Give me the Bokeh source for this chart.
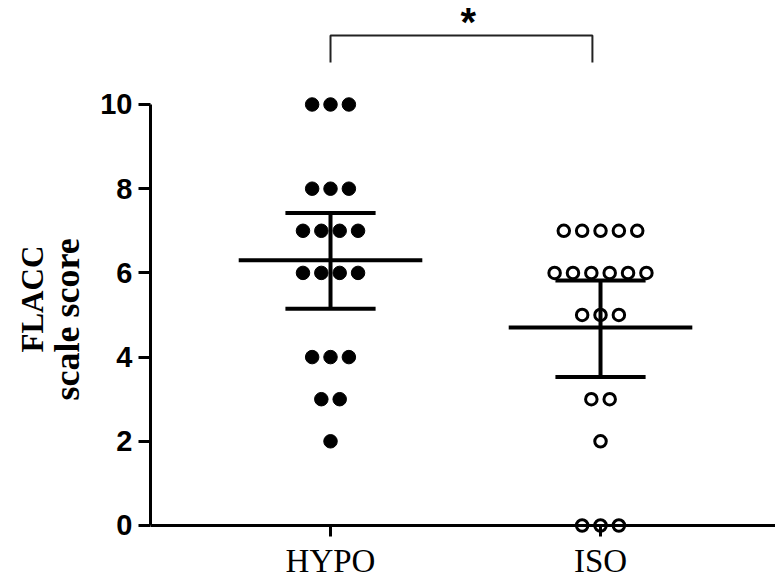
from bokeh.plotting import figure
from bokeh.models import Range1d, FixedTicker, Span, Title
from bokeh.core.properties import value
from bokeh.embed import file_html
from bokeh.resources import INLINE

# ---- data ----
categories = ["HYPO", "ISO"]
hypo_scores = [10, 10, 10, 8, 8, 8, 7, 7, 7, 7, 6, 6, 6, 6, 4, 4, 4, 3, 3, 2]
iso_scores = [7, 7, 7, 7, 7, 6, 6, 6, 6, 6, 6, 5, 5, 5, 3, 3, 2, 0, 0, 0]
group_means = [6.3, 4.7]
ci_lower = [5.15, 3.53]
ci_upper = [7.42, 5.82]
y_ticks = [0, 2, 4, 6, 8, 10]
y_title_lines = ["scale score", "FLACC"]   # inner line first
significance_label = "*"

# ---- style constants ----
STEP = 0.068          # horizontal spacing between stacked points (x units)
MEAN_HALF = 0.34
CAP_HALF = 0.167
BRACKET_Y = 11.64
BRACKET_DROP = 0.64
STAR_Y = 11.95

positions = [i + 1 for i in range(len(categories))]


def swarm(scores, center, step):
    xs, ys = [], []
    for v in sorted(set(scores), reverse=True):
        n = scores.count(v)
        for i in range(n):
            xs.append(center + (i - (n - 1) / 2) * step)
            ys.append(v)
    return xs, ys


p = figure(width=775, height=582,
           x_range=Range1d(0.3333, 2.6481), y_range=Range1d(-0.2613, 12.47),
           output_backend="svg", toolbar_location=None,
           min_border_left=150, min_border_right=0, min_border_top=0, min_border_bottom=46)
p.grid.visible = False
p.outline_line_color = None

# y axis
ax = p.yaxis[0]
ax.ticker = FixedTicker(ticks=y_ticks)
ax.bounds = (0, 10)
ax.axis_line_width = 3
ax.axis_line_color = "black"
ax.major_tick_line_width = 3
ax.major_tick_line_color = "black"
ax.major_tick_out = 12
ax.major_tick_in = 0
ax.minor_tick_line_color = None
ax.major_label_standoff = 6
ax.major_label_text_font = "Liberation Sans"
ax.major_label_text_font_style = "bold"
ax.major_label_text_font_size = "29px"
ax.major_label_text_color = "black"

# y axis title, two rotated lines
for txt, size, stand, off, lh in zip(y_title_lines, ["36px", "31px"], [21, -30], [136, 184], [0.6, 1.0]):
    p.add_layout(Title(text=txt, text_font="Liberation Serif", text_font_style="bold",
                       text_font_size=size, align="left", standoff=stand, offset=off,
                       text_line_height=lh, text_color="black"), "left")

# x axis (line drawn as a span at zero)
xa = p.xaxis[0]
xa.ticker = FixedTicker(ticks=positions)
xa.major_label_overrides = {pos: name for pos, name in zip(positions, categories)}
xa.axis_line_color = None
xa.major_tick_in = 11
xa.major_tick_out = 0
xa.major_tick_line_width = 3
xa.major_tick_line_color = "black"
xa.minor_tick_line_color = None
xa.major_label_standoff = 6
xa.major_label_text_font = "Liberation Serif"
xa.major_label_text_font_size = "33px"
xa.major_label_text_color = "black"

p.add_layout(Span(location=0, dimension="width", line_color="black", line_width=3))

# points
hx, hy = swarm(hypo_scores, positions[0], STEP)
ix, iy = swarm(iso_scores, positions[1], STEP)
p.scatter(hx, hy, marker="circle", size=13.5, fill_color="black", line_color="black")
p.scatter(ix, iy, marker="circle", size=11.5, fill_color=None, line_color="black", line_width=3)

# mean and CI bars
p.segment(x0=[c - MEAN_HALF for c in positions], y0=group_means,
          x1=[c + MEAN_HALF for c in positions], y1=group_means,
          line_color="black", line_width=4)
p.segment(x0=positions, y0=ci_lower, x1=positions, y1=ci_upper,
          line_color="black", line_width=4)
p.segment(x0=[c - CAP_HALF for c in positions], y0=ci_upper,
          x1=[c + CAP_HALF for c in positions], y1=ci_upper,
          line_color="black", line_width=4)
p.segment(x0=[c - CAP_HALF for c in positions], y0=ci_lower,
          x1=[c + CAP_HALF for c in positions], y1=ci_lower,
          line_color="black", line_width=4)

# significance bracket
bx = [positions[0], positions[0], positions[1] - 0.03, positions[1] - 0.03]
by = [BRACKET_Y - BRACKET_DROP, BRACKET_Y, BRACKET_Y, BRACKET_Y - BRACKET_DROP]
p.line(bx, by, line_color="#222222", line_width=2)
p.text(x=[(positions[0] + positions[1]) / 2 + 0.01], y=[STAR_Y], text=[significance_label],
       text_font=value("Liberation Sans"), text_font_style="bold", text_font_size="40px",
       text_align="center", text_baseline="middle", text_color="black")

open("out.html", "w").write(file_html(p, INLINE))
